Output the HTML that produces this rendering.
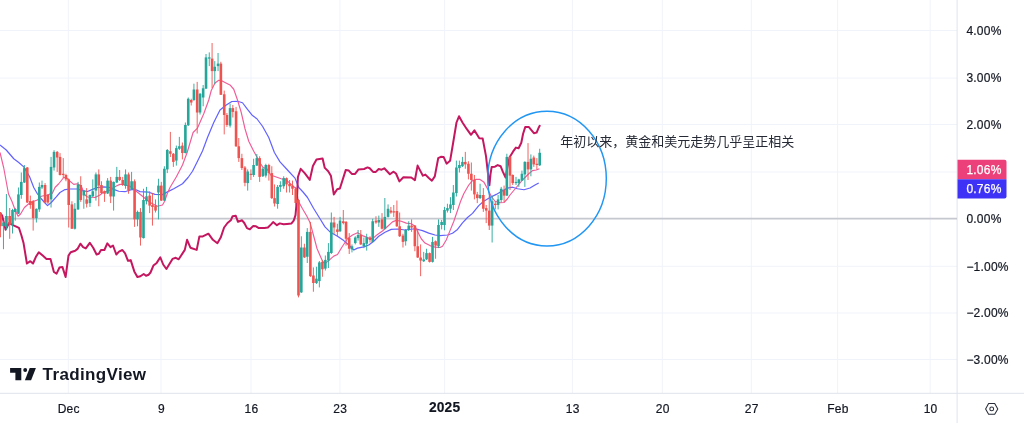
<!DOCTYPE html>
<html><head><meta charset="utf-8"><title>chart</title>
<style>
html,body{margin:0;padding:0;background:#fff;}
body{width:1024px;height:423px;overflow:hidden;position:relative;font-family:"Liberation Sans","Noto Sans CJK SC",sans-serif;}
svg{position:absolute;left:0;top:0;display:block;will-change:transform;}
text{font-family:"Liberation Sans","Noto Sans CJK SC",sans-serif;}
.ax{font-size:12px;fill:#131722;stroke:#131722;stroke-width:.2px;}
</style></head><body>
<svg width="1024" height="423" viewBox="0 0 1024 423">
<rect width="1024" height="423" fill="#ffffff"/>
<g stroke="#f0f3fa" stroke-width="1">
<line x1="68.3" y1="0" x2="68.3" y2="393"/>
<line x1="161.0" y1="0" x2="161.0" y2="393"/>
<line x1="251.0" y1="0" x2="251.0" y2="393"/>
<line x1="339.9" y1="0" x2="339.9" y2="393"/>
<line x1="444.6" y1="0" x2="444.6" y2="393"/>
<line x1="572.4" y1="0" x2="572.4" y2="393"/>
<line x1="662.3" y1="0" x2="662.3" y2="393"/>
<line x1="751.3" y1="0" x2="751.3" y2="393"/>
<line x1="837.6" y1="0" x2="837.6" y2="393"/>
<line x1="930.2" y1="0" x2="930.2" y2="393"/>
<line x1="0" y1="30.5" x2="957" y2="30.5"/>
<line x1="0" y1="78.1" x2="957" y2="78.1"/>
<line x1="0" y1="124.5" x2="957" y2="124.5"/>
<line x1="0" y1="172.0" x2="957" y2="172.0"/>
<line x1="0" y1="266.3" x2="957" y2="266.3"/>
<line x1="0" y1="313.0" x2="957" y2="313.0"/>
<line x1="0" y1="359.5" x2="957" y2="359.5"/>
</g>
<g stroke="#e0e3eb" stroke-width="1"><line x1="957.1" y1="0" x2="957.1" y2="423"/><line x1="0" y1="393.3" x2="1024" y2="393.3"/></g>
<line x1="0" y1="218.6" x2="957" y2="218.6" stroke="#c6c8cf" stroke-width="1.6"/>
<polyline points="0,145 6.25,150 13.75,158.75 18.75,162.5 23.75,166.9 29.4,176.25 33.75,187.5 37.5,194 41.25,198.75 45,203 47.5,205.6 51.25,202.5 56.25,196.9 60,192.5 65,189.6 70,189 77.5,189 82.5,190.6 87.5,191.5 92.5,189.4 97.5,187.5 103.75,186.9 108.75,187.25 113.75,189.4 118.75,191.25 125,191.7 128,190.7 132.5,189.4 136,189.8 140,191.6 148.75,192.2 155,194.4 162.5,194.6 167.5,191.9 173.75,188.75 182.5,183.75 188.1,177.5 192.5,171.25 197.5,161.25 202.5,151 207.5,137.5 213.75,122.5 220,110 226.25,105 231.9,101.5 237.5,101.25 242.5,102.75 247.5,109.4 252.5,115.6 256.9,118.75 262.5,126.25 268.75,137.5 274.4,152.5 280,161.9 287.5,170 295,178.1 298.75,187.5 303,192 307.5,197.5 313.5,208.3 320,218.75 325,226.9 330,231.9 337.5,236.25 343.75,240.6 348.75,245 353.75,250 357.5,248.1 363.75,246.9 368.75,245 373.75,241.25 378.75,236.25 385,232.2 391.25,229.4 397.5,229 405,230 415,228.75 422.5,230.6 428.75,233.1 435,235 440,235.6 447.5,235 452.5,233.2 457.5,229.4 462.5,222.8 467.5,217.5 472.5,213.4 478.75,205.6 483.75,201.25 490,197.5 496.25,194.4 501.25,191.5 507.5,188.1 512.5,187.2 517.5,188.75 524,189.75 530,188 535,185 538.75,183" fill="none" stroke="#6262ff" stroke-width="1.2" stroke-linejoin="round"/>
<polyline points="0,152.5 3.75,168 8.5,194 11.9,201.25 15.6,211.25 18.1,216.25 20.6,214 24.4,207.5 28.75,203.75 33.75,201.25 37.5,200 41.25,196.25 47.5,195 52.5,193.1 55,187.5 58.75,183.75 63.75,177.5 66.25,177.5 70,181.25 73.75,184.4 77.5,183.8 81.25,186.25 85,195 87.5,197 95,197.5 100,195 103.75,192 108.75,190.8 116.25,186 120,184.4 124,184.5 130,186.25 136.25,191.25 142.5,196.25 150,202.5 157.5,206.25 162.5,205 164.5,201.5 167.5,193 170,187.5 176.25,177 182.5,165 187.3,152 193.1,132.5 197.5,128.1 203.75,113.75 208.75,100 211.25,90.5 215,83 218.75,80.25 221.25,80.5 225,82.4 230,84.9 233.75,89.25 237.5,100 241.25,112.5 245,128.75 248.75,141.25 253.75,151.25 257.5,158 260.6,163.75 263.1,167.5 266.9,168.75 270.6,175 281.25,178.75 286.25,180 292.5,185.6 296.25,188.75 298.5,201.5 302.5,208.75 306.9,216.25 310,222.5 313.75,236.25 317,248.5 320,255.5 322.5,261.1 325,263.6 328.1,261.1 333.75,256.1 337.5,254.5 342,247 347.5,238.75 352.5,235 357.5,232.75 362.5,235.6 368.75,238.1 372.5,238.75 377.5,234.4 382.5,231 387.5,226.5 392.5,221.9 396.25,220.4 401.25,221.25 406.25,223.1 411.25,223.75 415,226.25 418.1,232.5 421.25,238.75 425,243.1 430,245.6 435,247.1 440,247.5 442.5,246.25 446.25,240 450,230.6 453.75,221.5 457.5,210.5 460.5,201.5 463.75,193.75 468.75,185 472.5,180.6 476.25,179.4 480,179.4 483.75,181.9 487.5,188.75 491.25,196.25 495,201.25 500,202.8 504,202.5 507.5,198.75 510,195 516.25,187.5 522.5,180 528.75,173.75 532.5,170.6 536.25,170 539.4,168.75" fill="none" stroke="#f05c97" stroke-width="1.15" stroke-linejoin="round"/>
<polyline points="0,213 2.2,215.7 5.6,229.8 9,223 13.5,225.3 16.8,226.8 18.9,227.8 21.3,235 23.6,243.3 26.9,263.5 30.3,261.2 33,263.5 35.9,256.8 38.8,252.3 42.7,255.6 46.5,259 50.5,259 53.9,272 56.6,273.6 59.5,267.5 62.4,266.9 65.6,277 68.5,255.6 70.7,252.3 75.2,250.7 77.5,248.9 80.4,243.7 83.1,247.1 85.8,248.4 89.8,242.8 93.2,247.8 96.6,254.5 98.8,253.8 101,250 104.4,250 107.3,243.3 110.5,247.1 113,245.5 116.3,254.5 119,251.6 122.4,250 125.1,253.4 128,260.8 130.7,260.1 134.3,271.4 137.4,277 140.4,276.3 143.7,274 146,275.8 148.7,274.7 150.5,272.5 153.4,265.6 156.7,262.9 160.3,257.3 163.2,264.5 166.4,269 172.5,258.9 175.8,257.8 178.7,259.3 184.8,249.9 187.1,239.8 190.4,247.7 196.7,249.9 199.4,236.4 202.8,236.4 208.4,233.7 212.9,239.8 217.4,243.2 220.7,237.6 224.1,227.5 227.5,223 230.8,220.3 232.6,216.2 235.8,215.8 238,221.8 242.1,220.3 244.3,223 247,228.1 249.9,229.3 253.3,225.9 256,226.3 258.9,228.1 264.5,227.9 267.9,227.5 271.3,224.1 273.1,222.1 276.9,225.2 279.8,223.4 283.6,224.3 287,223.9 291.5,223.4 293.7,220.7 295.5,215.1 296.4,205 297.1,196.1 297.9,177 300.7,168.8 304.7,173.2 309.8,179.9 312.9,166 316.5,159.6 322.6,158.4 324.8,167.9 328.2,171.2 330.9,175.7 333.8,194.4 337.2,189.2 339.9,188.5 345.7,170.1 348.8,170.6 351.8,173.9 355.1,173.9 358.5,169.4 364.1,169 367.5,167.4 369.7,168.3 373.1,171.9 375.8,171.9 378.7,169 381.6,169.7 384.3,168.3 389.9,174.2 393.3,171.7 396,173.5 399.4,181.4 403.4,177.3 411.3,177.5 414.9,180.2 417.6,165.6 420.2,170.6 422.9,175.7 425.4,174.6 428.8,178 431.9,180.7 434.8,176.4 438.2,158.2 440.9,156.8 443.6,156.9 446.6,163.7 450.1,160.8 453.2,142.5 456.5,122.5 459,116.3 462.5,122.5 466.9,129.2 471,134.8 474.4,130.3 479.3,138.2 482.7,138.6 486,156.1 488.3,176.4 489.4,185.3 490.5,174.1 491.7,166.9 495,166.7 497.7,165.1 500.6,166.2 502.9,171.9 505.6,177.5 507.4,167.4 509.6,157.3 513,151.7 515.9,147.6 518.6,148.3 521.3,142.7 523.1,133.7 525.3,126.9 528.7,126.9 531.6,130.3 533.9,133.2 536.6,132.6 538.8,127.4 539.7,125.8" fill="none" stroke="#c4175f" stroke-width="2.0" stroke-linejoin="round" stroke-linecap="round"/>
<g id="candles">
<path d="M0.49 212V237.3" stroke="#ef5350" stroke-width="1" stroke-opacity=".9"/><rect x="-0.81" y="212.7" width="2.6" height="13.5" fill="#ef5350"/>
<path d="M3.48 221V249.2" stroke="#26a69a" stroke-width="1" stroke-opacity=".9"/><rect x="2.18" y="222.5" width="2.6" height="3.7" fill="#26a69a"/>
<path d="M6.41 194V230" stroke="#26a69a" stroke-width="1" stroke-opacity=".9"/><rect x="5.11" y="216" width="2.6" height="11" fill="#26a69a"/>
<path d="M9.7 208V238.8" stroke="#ef5350" stroke-width="1" stroke-opacity=".9"/><rect x="8.4" y="216" width="2.6" height="8.5" fill="#ef5350"/>
<path d="M12.51 208.8V233.5" stroke="#26a69a" stroke-width="1" stroke-opacity=".9"/><rect x="11.21" y="210" width="2.6" height="14.5" fill="#26a69a"/>
<path d="M15.27 208V220.7" stroke="#26a69a" stroke-width="1" stroke-opacity=".9"/><rect x="13.97" y="209" width="2.6" height="3" fill="#26a69a"/>
<path d="M18.44 187.5V214" stroke="#26a69a" stroke-width="1" stroke-opacity=".9"/><rect x="17.14" y="194.4" width="2.6" height="19.35" fill="#26a69a"/>
<path d="M21.31 172.5V198.75" stroke="#26a69a" stroke-width="1" stroke-opacity=".9"/><rect x="20.01" y="181.9" width="2.6" height="13.1" fill="#26a69a"/>
<path d="M24.36 165V183" stroke="#26a69a" stroke-width="1" stroke-opacity=".9"/><rect x="23.06" y="168.1" width="2.6" height="14.4" fill="#26a69a"/>
<path d="M27.29 167V203" stroke="#ef5350" stroke-width="1" stroke-opacity=".9"/><rect x="25.99" y="167.5" width="2.6" height="35" fill="#ef5350"/>
<path d="M30.35 195.6V208.75" stroke="#ef5350" stroke-width="1" stroke-opacity=".9"/><rect x="29.05" y="201" width="2.6" height="4" fill="#ef5350"/>
<path d="M33.16 200V230.6" stroke="#ef5350" stroke-width="1" stroke-opacity=".9"/><rect x="31.86" y="201.25" width="2.6" height="16.85" fill="#ef5350"/>
<path d="M36.39 208.5V222.5" stroke="#26a69a" stroke-width="1" stroke-opacity=".9"/><rect x="35.09" y="208.75" width="2.6" height="9.35" fill="#26a69a"/>
<path d="M39.32 182.5V211.9" stroke="#26a69a" stroke-width="1" stroke-opacity=".9"/><rect x="38.02" y="186.9" width="2.6" height="22.5" fill="#26a69a"/>
<path d="M42.01 180.6V189" stroke="#26a69a" stroke-width="1" stroke-opacity=".9"/><rect x="40.71" y="185" width="2.6" height="2.5" fill="#26a69a"/>
<path d="M45.07 183.1V203" stroke="#ef5350" stroke-width="1" stroke-opacity=".9"/><rect x="43.77" y="185" width="2.6" height="17.5" fill="#ef5350"/>
<path d="M47.91 194V204" stroke="#ef5350" stroke-width="1" stroke-opacity=".9"/><rect x="46.61" y="195" width="2.6" height="7.5" fill="#ef5350"/>
<path d="M51.05 156.9V207.5" stroke="#26a69a" stroke-width="1" stroke-opacity=".9"/><rect x="49.75" y="166.9" width="2.6" height="32.5" fill="#26a69a"/>
<path d="M54.04 150.25V170.6" stroke="#26a69a" stroke-width="1" stroke-opacity=".9"/><rect x="52.74" y="151.9" width="2.6" height="15.6" fill="#26a69a"/>
<path d="M57.18 151V171.9" stroke="#ef5350" stroke-width="1" stroke-opacity=".9"/><rect x="55.88" y="151.9" width="2.6" height="5.6" fill="#ef5350"/>
<path d="M60.03 153.1V175.5" stroke="#ef5350" stroke-width="1" stroke-opacity=".9"/><rect x="58.73" y="156.9" width="2.6" height="18.1" fill="#ef5350"/>
<path d="M63.26 158.1V178.1" stroke="#ef5350" stroke-width="1" stroke-opacity=".9"/><rect x="61.96" y="173.75" width="2.6" height="1.25" fill="#ef5350"/>
<path d="M65.95 173.75V181.25" stroke="#ef5350" stroke-width="1" stroke-opacity=".9"/><rect x="64.65" y="175" width="2.6" height="4.4" fill="#ef5350"/>
<path d="M68.7 178.5V227.5" stroke="#ef5350" stroke-width="1" stroke-opacity=".9"/><rect x="67.4" y="179.4" width="2.6" height="25.6" fill="#ef5350"/>
<path d="M71.93 201.25V229" stroke="#ef5350" stroke-width="1" stroke-opacity=".9"/><rect x="70.63" y="204.4" width="2.6" height="24.35" fill="#ef5350"/>
<path d="M74.84 203.1V229.5" stroke="#26a69a" stroke-width="1" stroke-opacity=".9"/><rect x="73.54" y="208.75" width="2.6" height="20" fill="#26a69a"/>
<path d="M78.04 181.9V210" stroke="#26a69a" stroke-width="1" stroke-opacity=".9"/><rect x="76.74" y="184.4" width="2.6" height="25" fill="#26a69a"/>
<path d="M80.73 176.25V201.9" stroke="#ef5350" stroke-width="1" stroke-opacity=".9"/><rect x="79.43" y="185" width="2.6" height="15" fill="#ef5350"/>
<path d="M83.81 190V208.75" stroke="#26a69a" stroke-width="1" stroke-opacity=".9"/><rect x="82.51" y="190.6" width="2.6" height="4.9" fill="#26a69a"/>
<path d="M86.65 188.1V207.5" stroke="#ef5350" stroke-width="1" stroke-opacity=".9"/><rect x="85.35" y="199.4" width="2.6" height="4.35" fill="#ef5350"/>
<path d="M89.95 194.5V206.9" stroke="#26a69a" stroke-width="1" stroke-opacity=".9"/><rect x="88.65" y="195" width="2.6" height="8.1" fill="#26a69a"/>
<path d="M92.79 179.4V197" stroke="#26a69a" stroke-width="1" stroke-opacity=".9"/><rect x="91.49" y="191.25" width="2.6" height="5" fill="#26a69a"/>
<path d="M95.93 172.5V200.6" stroke="#26a69a" stroke-width="1" stroke-opacity=".9"/><rect x="94.63" y="174.4" width="2.6" height="16.2" fill="#26a69a"/>
<path d="M98.77 169.4V206.25" stroke="#ef5350" stroke-width="1" stroke-opacity=".9"/><rect x="97.47" y="174.4" width="2.6" height="11.2" fill="#ef5350"/>
<path d="M101.46 181.25V194" stroke="#ef5350" stroke-width="1" stroke-opacity=".9"/><rect x="100.16" y="185" width="2.6" height="8" fill="#ef5350"/>
<path d="M104.55 190.5V201.9" stroke="#ef5350" stroke-width="1" stroke-opacity=".9"/><rect x="103.25" y="191.25" width="2.6" height="2.5" fill="#ef5350"/>
<path d="M107.6 178.1V194" stroke="#26a69a" stroke-width="1" stroke-opacity=".9"/><rect x="106.3" y="180.6" width="2.6" height="12.9" fill="#26a69a"/>
<path d="M110.65 176.9V203.1" stroke="#ef5350" stroke-width="1" stroke-opacity=".9"/><rect x="109.35" y="180.6" width="2.6" height="15.9" fill="#ef5350"/>
<path d="M113.58 181.5V210.6" stroke="#26a69a" stroke-width="1" stroke-opacity=".9"/><rect x="112.28" y="181.9" width="2.6" height="14.6" fill="#26a69a"/>
<path d="M116.81 166.9V183" stroke="#26a69a" stroke-width="1" stroke-opacity=".9"/><rect x="115.51" y="176.9" width="2.6" height="5.6" fill="#26a69a"/>
<path d="M119.63 170V181" stroke="#ef5350" stroke-width="1" stroke-opacity=".9"/><rect x="118.33" y="176.9" width="2.6" height="3.1" fill="#ef5350"/>
<path d="M122.71 176.9V186" stroke="#ef5350" stroke-width="1" stroke-opacity=".9"/><rect x="121.41" y="180" width="2.6" height="5" fill="#ef5350"/>
<path d="M125.55 169.4V188.75" stroke="#26a69a" stroke-width="1" stroke-opacity=".9"/><rect x="124.25" y="174.4" width="2.6" height="11.6" fill="#26a69a"/>
<path d="M128.54 172.5V193.75" stroke="#ef5350" stroke-width="1" stroke-opacity=".9"/><rect x="127.24" y="174.4" width="2.6" height="15.6" fill="#ef5350"/>
<path d="M131.59 171.9V190" stroke="#26a69a" stroke-width="1" stroke-opacity=".9"/><rect x="130.29" y="181.25" width="2.6" height="8.15" fill="#26a69a"/>
<path d="M134.59 179.4V226.9" stroke="#ef5350" stroke-width="1" stroke-opacity=".9"/><rect x="133.29" y="181.25" width="2.6" height="38.15" fill="#ef5350"/>
<path d="M137.52 210.6V226.25" stroke="#26a69a" stroke-width="1" stroke-opacity=".9"/><rect x="136.22" y="211.9" width="2.6" height="7.5" fill="#26a69a"/>
<path d="M140.51 208.1V245.6" stroke="#ef5350" stroke-width="1" stroke-opacity=".9"/><rect x="139.21" y="211.9" width="2.6" height="25.6" fill="#ef5350"/>
<path d="M143.5 188.75V238.5" stroke="#26a69a" stroke-width="1" stroke-opacity=".9"/><rect x="142.2" y="200" width="2.6" height="38.1" fill="#26a69a"/>
<path d="M146.49 186.9V204.4" stroke="#26a69a" stroke-width="1" stroke-opacity=".9"/><rect x="145.19" y="196.25" width="2.6" height="5" fill="#26a69a"/>
<path d="M149.64 191.25V213.1" stroke="#ef5350" stroke-width="1" stroke-opacity=".9"/><rect x="148.34" y="195.6" width="2.6" height="10" fill="#ef5350"/>
<path d="M152.48 193.1V225.6" stroke="#ef5350" stroke-width="1" stroke-opacity=".9"/><rect x="151.18" y="205" width="2.6" height="2" fill="#ef5350"/>
<path d="M155.53 199.4V212.5" stroke="#ef5350" stroke-width="1" stroke-opacity=".9"/><rect x="154.23" y="205.6" width="2.6" height="5" fill="#ef5350"/>
<path d="M158.46 178.75V219.4" stroke="#26a69a" stroke-width="1" stroke-opacity=".9"/><rect x="157.16" y="185.6" width="2.6" height="6.9" fill="#26a69a"/>
<path d="M161.3 181.9V201" stroke="#ef5350" stroke-width="1" stroke-opacity=".9"/><rect x="160" y="185.6" width="2.6" height="15" fill="#ef5350"/>
<path d="M164.39 166.25V201" stroke="#26a69a" stroke-width="1" stroke-opacity=".9"/><rect x="163.09" y="168.75" width="2.6" height="31.85" fill="#26a69a"/>
<path d="M167.29 149V173.1" stroke="#26a69a" stroke-width="1" stroke-opacity=".9"/><rect x="165.99" y="150" width="2.6" height="19.4" fill="#26a69a"/>
<path d="M170.37 131.9V157" stroke="#ef5350" stroke-width="1" stroke-opacity=".9"/><rect x="169.07" y="151.25" width="2.6" height="2.5" fill="#ef5350"/>
<path d="M173.36 153V166.9" stroke="#ef5350" stroke-width="1" stroke-opacity=".9"/><rect x="172.06" y="153.75" width="2.6" height="8.15" fill="#ef5350"/>
<path d="M176.35 145.6V165.6" stroke="#26a69a" stroke-width="1" stroke-opacity=".9"/><rect x="175.05" y="148.1" width="2.6" height="12.5" fill="#26a69a"/>
<path d="M179.35 136.9V150" stroke="#26a69a" stroke-width="1" stroke-opacity=".9"/><rect x="178.05" y="146.25" width="2.6" height="2.5" fill="#26a69a"/>
<path d="M182.4 142.5V159.4" stroke="#ef5350" stroke-width="1" stroke-opacity=".9"/><rect x="181.1" y="145.6" width="2.6" height="7.4" fill="#ef5350"/>
<path d="M185.39 122.5V153.5" stroke="#26a69a" stroke-width="1" stroke-opacity=".9"/><rect x="184.09" y="125" width="2.6" height="28" fill="#26a69a"/>
<path d="M188.26 97.5V126" stroke="#26a69a" stroke-width="1" stroke-opacity=".9"/><rect x="186.96" y="98.75" width="2.6" height="26.55" fill="#26a69a"/>
<path d="M191.22 98.75V105.5" stroke="#ef5350" stroke-width="1" stroke-opacity=".9"/><rect x="189.92" y="100" width="2.6" height="2.5" fill="#ef5350"/>
<path d="M193.92 83.7V101" stroke="#26a69a" stroke-width="1" stroke-opacity=".9"/><rect x="192.62" y="89.5" width="2.6" height="10.5" fill="#26a69a"/>
<path d="M197.18 81.9V133.5" stroke="#ef5350" stroke-width="1" stroke-opacity=".9"/><rect x="195.88" y="89.5" width="2.6" height="23" fill="#ef5350"/>
<path d="M200.05 93V114.5" stroke="#26a69a" stroke-width="1" stroke-opacity=".9"/><rect x="198.75" y="93.75" width="2.6" height="18.75" fill="#26a69a"/>
<path d="M203.16 85V106.25" stroke="#26a69a" stroke-width="1" stroke-opacity=".9"/><rect x="201.86" y="88.3" width="2.6" height="9.2" fill="#26a69a"/>
<path d="M206.03 54V89" stroke="#26a69a" stroke-width="1" stroke-opacity=".9"/><rect x="204.73" y="57.4" width="2.6" height="31.2" fill="#26a69a"/>
<path d="M209.27 52.4V66.1" stroke="#26a69a" stroke-width="1" stroke-opacity=".9"/><rect x="207.97" y="57.4" width="2.6" height="1.2" fill="#26a69a"/>
<path d="M212.08 43V88" stroke="#ef5350" stroke-width="1" stroke-opacity=".9"/><rect x="210.78" y="58.6" width="2.6" height="12.5" fill="#ef5350"/>
<path d="M214.77 61.1V84.25" stroke="#26a69a" stroke-width="1" stroke-opacity=".9"/><rect x="213.47" y="66.75" width="2.6" height="4.35" fill="#26a69a"/>
<path d="M218.06 53V71.1" stroke="#26a69a" stroke-width="1" stroke-opacity=".9"/><rect x="216.76" y="63.6" width="2.6" height="2.5" fill="#26a69a"/>
<path d="M220.87 61.75V95" stroke="#ef5350" stroke-width="1" stroke-opacity=".9"/><rect x="219.57" y="63.6" width="2.6" height="31.2" fill="#ef5350"/>
<path d="M224.23 90.6V134.4" stroke="#ef5350" stroke-width="1" stroke-opacity=".9"/><rect x="222.93" y="94.3" width="2.6" height="20.7" fill="#ef5350"/>
<path d="M226.92 113V126.9" stroke="#ef5350" stroke-width="1" stroke-opacity=".9"/><rect x="225.62" y="115" width="2.6" height="10" fill="#ef5350"/>
<path d="M230.09 103.75V127.5" stroke="#26a69a" stroke-width="1" stroke-opacity=".9"/><rect x="228.79" y="108.1" width="2.6" height="17.5" fill="#26a69a"/>
<path d="M232.84 105V117.5" stroke="#ef5350" stroke-width="1" stroke-opacity=".9"/><rect x="231.54" y="108.1" width="2.6" height="3.8" fill="#ef5350"/>
<path d="M236.07 106.9V147" stroke="#ef5350" stroke-width="1" stroke-opacity=".9"/><rect x="234.77" y="111.25" width="2.6" height="35" fill="#ef5350"/>
<path d="M238.77 138V161.9" stroke="#ef5350" stroke-width="1" stroke-opacity=".9"/><rect x="237.47" y="146.25" width="2.6" height="11.85" fill="#ef5350"/>
<path d="M241.88 153.75V170" stroke="#ef5350" stroke-width="1" stroke-opacity=".9"/><rect x="240.58" y="158.1" width="2.6" height="9.9" fill="#ef5350"/>
<path d="M244.93 166V186.25" stroke="#ef5350" stroke-width="1" stroke-opacity=".9"/><rect x="243.63" y="167.5" width="2.6" height="15.3" fill="#ef5350"/>
<path d="M247.68 169.4V190.6" stroke="#26a69a" stroke-width="1" stroke-opacity=".9"/><rect x="246.38" y="171.5" width="2.6" height="11.6" fill="#26a69a"/>
<path d="M250.91 169.4V180" stroke="#ef5350" stroke-width="1" stroke-opacity=".9"/><rect x="249.61" y="173.75" width="2.6" height="1.25" fill="#ef5350"/>
<path d="M253.61 158.75V176.9" stroke="#26a69a" stroke-width="1" stroke-opacity=".9"/><rect x="252.31" y="165" width="2.6" height="10" fill="#26a69a"/>
<path d="M256.84 154V166" stroke="#26a69a" stroke-width="1" stroke-opacity=".9"/><rect x="255.54" y="158.1" width="2.6" height="7.5" fill="#26a69a"/>
<path d="M259.65 156.25V181.9" stroke="#ef5350" stroke-width="1" stroke-opacity=".9"/><rect x="258.35" y="158.1" width="2.6" height="18.8" fill="#ef5350"/>
<path d="M262.82 167.5V177" stroke="#26a69a" stroke-width="1" stroke-opacity=".9"/><rect x="261.52" y="168.75" width="2.6" height="7.5" fill="#26a69a"/>
<path d="M265.81 163.75V177.5" stroke="#26a69a" stroke-width="1" stroke-opacity=".9"/><rect x="264.51" y="165" width="2.6" height="10.6" fill="#26a69a"/>
<path d="M268.87 163.75V180.6" stroke="#ef5350" stroke-width="1" stroke-opacity=".9"/><rect x="267.57" y="165" width="2.6" height="8.1" fill="#ef5350"/>
<path d="M271.8 166.25V199" stroke="#ef5350" stroke-width="1" stroke-opacity=".9"/><rect x="270.5" y="173.1" width="2.6" height="25" fill="#ef5350"/>
<path d="M274.55 184.4V206.5" stroke="#ef5350" stroke-width="1" stroke-opacity=".9"/><rect x="273.25" y="198.1" width="2.6" height="5.4" fill="#ef5350"/>
<path d="M277.6 185V208.7" stroke="#26a69a" stroke-width="1" stroke-opacity=".9"/><rect x="276.3" y="186.9" width="2.6" height="17.1" fill="#26a69a"/>
<path d="M280.38 181.25V191.9" stroke="#26a69a" stroke-width="1" stroke-opacity=".9"/><rect x="279.08" y="185" width="2.6" height="1.9" fill="#26a69a"/>
<path d="M283.68 176.25V188.75" stroke="#26a69a" stroke-width="1" stroke-opacity=".9"/><rect x="282.38" y="178.1" width="2.6" height="8.15" fill="#26a69a"/>
<path d="M286.52 177.5V192.5" stroke="#ef5350" stroke-width="1" stroke-opacity=".9"/><rect x="285.22" y="178.1" width="2.6" height="6.3" fill="#ef5350"/>
<path d="M289.57 180V192.5" stroke="#ef5350" stroke-width="1" stroke-opacity=".9"/><rect x="288.27" y="183.75" width="2.6" height="2.5" fill="#ef5350"/>
<path d="M292.5 180.6V195" stroke="#ef5350" stroke-width="1" stroke-opacity=".9"/><rect x="291.2" y="185.6" width="2.6" height="3.15" fill="#ef5350"/>
<path d="M295.73 187V205.6" stroke="#ef5350" stroke-width="1" stroke-opacity=".9"/><rect x="294.43" y="188.75" width="2.6" height="14.25" fill="#ef5350"/>
<path d="M298.49 199V297.4" stroke="#ef5350" stroke-width="1" stroke-opacity=".9"/><rect x="297.19" y="200" width="2.6" height="95.5" fill="#ef5350"/>
<path d="M301.33 236.25V293" stroke="#26a69a" stroke-width="1" stroke-opacity=".9"/><rect x="300.03" y="247.5" width="2.6" height="44.9" fill="#26a69a"/>
<path d="M304.41 243.75V258" stroke="#ef5350" stroke-width="1" stroke-opacity=".9"/><rect x="303.11" y="247.5" width="2.6" height="9.9" fill="#ef5350"/>
<path d="M307.28 228.1V263" stroke="#26a69a" stroke-width="1" stroke-opacity=".9"/><rect x="305.98" y="231.9" width="2.6" height="24.85" fill="#26a69a"/>
<path d="M310.39 221.9V277" stroke="#ef5350" stroke-width="1" stroke-opacity=".9"/><rect x="309.09" y="231.9" width="2.6" height="44.2" fill="#ef5350"/>
<path d="M313.39 267.4V291.75" stroke="#ef5350" stroke-width="1" stroke-opacity=".9"/><rect x="312.09" y="275.5" width="2.6" height="7.5" fill="#ef5350"/>
<path d="M316.44 266.75V284" stroke="#26a69a" stroke-width="1" stroke-opacity=".9"/><rect x="315.14" y="278.6" width="2.6" height="4.4" fill="#26a69a"/>
<path d="M319.37 261V287.4" stroke="#26a69a" stroke-width="1" stroke-opacity=".9"/><rect x="318.07" y="262.4" width="2.6" height="18.7" fill="#26a69a"/>
<path d="M322.42 260V276.75" stroke="#ef5350" stroke-width="1" stroke-opacity=".9"/><rect x="321.12" y="261.75" width="2.6" height="7.5" fill="#ef5350"/>
<path d="M325.35 255.5V270.5" stroke="#26a69a" stroke-width="1" stroke-opacity=".9"/><rect x="324.05" y="259.9" width="2.6" height="8.7" fill="#26a69a"/>
<path d="M328.41 243.1V268" stroke="#26a69a" stroke-width="1" stroke-opacity=".9"/><rect x="327.11" y="251.9" width="2.6" height="8.6" fill="#26a69a"/>
<path d="M331.34 212.5V254" stroke="#26a69a" stroke-width="1" stroke-opacity=".9"/><rect x="330.04" y="222.5" width="2.6" height="30.5" fill="#26a69a"/>
<path d="M334.09 216.9V233.75" stroke="#ef5350" stroke-width="1" stroke-opacity=".9"/><rect x="332.79" y="222.5" width="2.6" height="5" fill="#ef5350"/>
<path d="M337.38 223.75V236.25" stroke="#ef5350" stroke-width="1" stroke-opacity=".9"/><rect x="336.08" y="229.4" width="2.6" height="2.5" fill="#ef5350"/>
<path d="M340.07 216.9V232" stroke="#26a69a" stroke-width="1" stroke-opacity=".9"/><rect x="338.77" y="220.6" width="2.6" height="10.65" fill="#26a69a"/>
<path d="M343.31 210V224.4" stroke="#ef5350" stroke-width="1" stroke-opacity=".9"/><rect x="342.01" y="221.25" width="2.6" height="1.85" fill="#ef5350"/>
<path d="M346.06 221V245.6" stroke="#ef5350" stroke-width="1" stroke-opacity=".9"/><rect x="344.76" y="221.9" width="2.6" height="16.85" fill="#ef5350"/>
<path d="M349.23 233.1V254" stroke="#ef5350" stroke-width="1" stroke-opacity=".9"/><rect x="347.93" y="238.1" width="2.6" height="10.65" fill="#ef5350"/>
<path d="M351.98 244.4V252.4" stroke="#26a69a" stroke-width="1" stroke-opacity=".9"/><rect x="350.68" y="246.25" width="2.6" height="3.15" fill="#26a69a"/>
<path d="M355.27 236.25V244.4" stroke="#26a69a" stroke-width="1" stroke-opacity=".9"/><rect x="353.97" y="237.5" width="2.6" height="5.6" fill="#26a69a"/>
<path d="M358.09 230V240.6" stroke="#26a69a" stroke-width="1" stroke-opacity=".9"/><rect x="356.79" y="235" width="2.6" height="3.1" fill="#26a69a"/>
<path d="M360.78 230V245" stroke="#ef5350" stroke-width="1" stroke-opacity=".9"/><rect x="359.48" y="235" width="2.6" height="9.4" fill="#ef5350"/>
<path d="M363.86 237.5V248.1" stroke="#26a69a" stroke-width="1" stroke-opacity=".9"/><rect x="362.56" y="243.1" width="2.6" height="3.15" fill="#26a69a"/>
<path d="M366.7 233.75V250.6" stroke="#26a69a" stroke-width="1" stroke-opacity=".9"/><rect x="365.4" y="237.5" width="2.6" height="6.25" fill="#26a69a"/>
<path d="M369.99 236.25V242.5" stroke="#ef5350" stroke-width="1" stroke-opacity=".9"/><rect x="368.69" y="237.5" width="2.6" height="2.5" fill="#ef5350"/>
<path d="M372.69 218.75V242.5" stroke="#26a69a" stroke-width="1" stroke-opacity=".9"/><rect x="371.39" y="221.25" width="2.6" height="20.65" fill="#26a69a"/>
<path d="M375.98 216.25V223.75" stroke="#ef5350" stroke-width="1" stroke-opacity=".9"/><rect x="374.68" y="220.6" width="2.6" height="1.9" fill="#ef5350"/>
<path d="M378.82 215.6V226.9" stroke="#26a69a" stroke-width="1" stroke-opacity=".9"/><rect x="377.52" y="220" width="2.6" height="2.5" fill="#26a69a"/>
<path d="M382.02 213.1V229.5" stroke="#ef5350" stroke-width="1" stroke-opacity=".9"/><rect x="380.72" y="219.4" width="2.6" height="9.35" fill="#ef5350"/>
<path d="M384.83 198V229.5" stroke="#26a69a" stroke-width="1" stroke-opacity=".9"/><rect x="383.53" y="216.9" width="2.6" height="11.85" fill="#26a69a"/>
<path d="M388.07 204.4V217.5" stroke="#26a69a" stroke-width="1" stroke-opacity=".9"/><rect x="386.77" y="208.75" width="2.6" height="8.15" fill="#26a69a"/>
<path d="M390.88 206.9V213.75" stroke="#ef5350" stroke-width="1" stroke-opacity=".9"/><rect x="389.58" y="210.6" width="2.6" height="1.9" fill="#ef5350"/>
<path d="M393.78 205V216.9" stroke="#ef5350" stroke-width="1" stroke-opacity=".9"/><rect x="392.48" y="211.25" width="2.6" height="1.25" fill="#ef5350"/>
<path d="M396.92 200.5V227" stroke="#ef5350" stroke-width="1" stroke-opacity=".9"/><rect x="395.62" y="211" width="2.6" height="15.25" fill="#ef5350"/>
<path d="M399.67 212.5V237" stroke="#ef5350" stroke-width="1" stroke-opacity=".9"/><rect x="398.37" y="226.25" width="2.6" height="10" fill="#ef5350"/>
<path d="M402.97 233.75V247.5" stroke="#ef5350" stroke-width="1" stroke-opacity=".9"/><rect x="401.67" y="235.6" width="2.6" height="6.3" fill="#ef5350"/>
<path d="M405.66 229V245.6" stroke="#26a69a" stroke-width="1" stroke-opacity=".9"/><rect x="404.36" y="230" width="2.6" height="11.25" fill="#26a69a"/>
<path d="M408.74 221.25V231" stroke="#26a69a" stroke-width="1" stroke-opacity=".9"/><rect x="407.44" y="225.6" width="2.6" height="4.4" fill="#26a69a"/>
<path d="M411.58 219.4V231.9" stroke="#ef5350" stroke-width="1" stroke-opacity=".9"/><rect x="410.28" y="225.6" width="2.6" height="1.9" fill="#ef5350"/>
<path d="M414.87 225V251.25" stroke="#ef5350" stroke-width="1" stroke-opacity=".9"/><rect x="413.57" y="225.6" width="2.6" height="20.65" fill="#ef5350"/>
<path d="M417.72 228.75V258" stroke="#ef5350" stroke-width="1" stroke-opacity=".9"/><rect x="416.42" y="246.25" width="2.6" height="11.25" fill="#ef5350"/>
<path d="M420.62 244.4V276.2" stroke="#ef5350" stroke-width="1" stroke-opacity=".9"/><rect x="419.32" y="257.5" width="2.6" height="3.1" fill="#ef5350"/>
<path d="M423.7 251.9V262" stroke="#26a69a" stroke-width="1" stroke-opacity=".9"/><rect x="422.4" y="259.4" width="2.6" height="1.85" fill="#26a69a"/>
<path d="M426.54 248.75V260" stroke="#26a69a" stroke-width="1" stroke-opacity=".9"/><rect x="425.24" y="253.1" width="2.6" height="6.3" fill="#26a69a"/>
<path d="M429.59 252.5V262.5" stroke="#ef5350" stroke-width="1" stroke-opacity=".9"/><rect x="428.29" y="253.1" width="2.6" height="8.8" fill="#ef5350"/>
<path d="M432.53 236.9V262.5" stroke="#26a69a" stroke-width="1" stroke-opacity=".9"/><rect x="431.23" y="241.9" width="2.6" height="20" fill="#26a69a"/>
<path d="M435.58 240.5V258.75" stroke="#ef5350" stroke-width="1" stroke-opacity=".9"/><rect x="434.28" y="241.25" width="2.6" height="4.35" fill="#ef5350"/>
<path d="M438.51 219.4V248.1" stroke="#26a69a" stroke-width="1" stroke-opacity=".9"/><rect x="437.21" y="225" width="2.6" height="21.25" fill="#26a69a"/>
<path d="M441.62 220V229.4" stroke="#26a69a" stroke-width="1" stroke-opacity=".9"/><rect x="440.32" y="222" width="2.6" height="3" fill="#26a69a"/>
<path d="M444.49 206.9V230.3" stroke="#26a69a" stroke-width="1" stroke-opacity=".9"/><rect x="443.19" y="210" width="2.6" height="15" fill="#26a69a"/>
<path d="M447.43 203.75V212.5" stroke="#26a69a" stroke-width="1" stroke-opacity=".9"/><rect x="446.13" y="208.1" width="2.6" height="2.5" fill="#26a69a"/>
<path d="M450.48 197.2V213.1" stroke="#26a69a" stroke-width="1" stroke-opacity=".9"/><rect x="449.18" y="204.4" width="2.6" height="4.35" fill="#26a69a"/>
<path d="M453.35 185V210" stroke="#26a69a" stroke-width="1" stroke-opacity=".9"/><rect x="452.05" y="192.5" width="2.6" height="12.5" fill="#26a69a"/>
<path d="M456.4 160.6V196.5" stroke="#26a69a" stroke-width="1" stroke-opacity=".9"/><rect x="455.1" y="167.5" width="2.6" height="25.6" fill="#26a69a"/>
<path d="M459.39 160.6V172.5" stroke="#26a69a" stroke-width="1" stroke-opacity=".9"/><rect x="458.09" y="165" width="2.6" height="3.1" fill="#26a69a"/>
<path d="M462.45 156.9V167" stroke="#26a69a" stroke-width="1" stroke-opacity=".9"/><rect x="461.15" y="161.9" width="2.6" height="4.35" fill="#26a69a"/>
<path d="M465.32 151.9V168.75" stroke="#ef5350" stroke-width="1" stroke-opacity=".9"/><rect x="464.02" y="161.9" width="2.6" height="2.5" fill="#ef5350"/>
<path d="M468.43 161.25V179.4" stroke="#ef5350" stroke-width="1" stroke-opacity=".9"/><rect x="467.13" y="163.75" width="2.6" height="10" fill="#ef5350"/>
<path d="M471.36 162.5V190.6" stroke="#ef5350" stroke-width="1" stroke-opacity=".9"/><rect x="470.06" y="173.75" width="2.6" height="6.25" fill="#ef5350"/>
<path d="M474.41 175V199.4" stroke="#ef5350" stroke-width="1" stroke-opacity=".9"/><rect x="473.11" y="180" width="2.6" height="14.4" fill="#ef5350"/>
<path d="M477.26 191.9V203.1" stroke="#ef5350" stroke-width="1" stroke-opacity=".9"/><rect x="475.96" y="194.4" width="2.6" height="3.7" fill="#ef5350"/>
<path d="M480.1 183.75V199" stroke="#26a69a" stroke-width="1" stroke-opacity=".9"/><rect x="478.8" y="195" width="2.6" height="3.1" fill="#26a69a"/>
<path d="M483.33 188.1V211.9" stroke="#ef5350" stroke-width="1" stroke-opacity=".9"/><rect x="482.03" y="195" width="2.6" height="13.75" fill="#ef5350"/>
<path d="M486.2 205V223.1" stroke="#ef5350" stroke-width="1" stroke-opacity=".9"/><rect x="484.9" y="208.1" width="2.6" height="2.5" fill="#ef5350"/>
<path d="M489.25 196V230" stroke="#ef5350" stroke-width="1" stroke-opacity=".9"/><rect x="487.95" y="210.6" width="2.6" height="15" fill="#ef5350"/>
<path d="M492.13 195.6V242.5" stroke="#26a69a" stroke-width="1" stroke-opacity=".9"/><rect x="490.83" y="201.25" width="2.6" height="24.35" fill="#26a69a"/>
<path d="M495.3 201.9V209.4" stroke="#ef5350" stroke-width="1" stroke-opacity=".9"/><rect x="494" y="203.75" width="2.6" height="1.25" fill="#ef5350"/>
<path d="M498.11 195V209.4" stroke="#26a69a" stroke-width="1" stroke-opacity=".9"/><rect x="496.81" y="199.4" width="2.6" height="5.6" fill="#26a69a"/>
<path d="M501.19 186.9V202.5" stroke="#26a69a" stroke-width="1" stroke-opacity=".9"/><rect x="499.89" y="188.75" width="2.6" height="11.25" fill="#26a69a"/>
<path d="M504.09 185.6V201.9" stroke="#ef5350" stroke-width="1" stroke-opacity=".9"/><rect x="502.79" y="190" width="2.6" height="5.6" fill="#ef5350"/>
<path d="M506.85 153.75V196" stroke="#26a69a" stroke-width="1" stroke-opacity=".9"/><rect x="505.55" y="156.9" width="2.6" height="38.7" fill="#26a69a"/>
<path d="M510.02 156V190" stroke="#ef5350" stroke-width="1" stroke-opacity=".9"/><rect x="508.72" y="156.9" width="2.6" height="18.7" fill="#ef5350"/>
<path d="M512.71 174.4V185" stroke="#ef5350" stroke-width="1" stroke-opacity=".9"/><rect x="511.41" y="175" width="2.6" height="8.1" fill="#ef5350"/>
<path d="M516 176.9V185" stroke="#26a69a" stroke-width="1" stroke-opacity=".9"/><rect x="514.7" y="181.9" width="2.6" height="1.2" fill="#26a69a"/>
<path d="M518.84 178.75V186.9" stroke="#26a69a" stroke-width="1" stroke-opacity=".9"/><rect x="517.54" y="179.4" width="2.6" height="3.7" fill="#26a69a"/>
<path d="M521.93 170.6V181" stroke="#26a69a" stroke-width="1" stroke-opacity=".9"/><rect x="520.63" y="173.75" width="2.6" height="6.85" fill="#26a69a"/>
<path d="M524.86 161.25V186.9" stroke="#26a69a" stroke-width="1" stroke-opacity=".9"/><rect x="523.56" y="161.9" width="2.6" height="12.5" fill="#26a69a"/>
<path d="M528.03 143.1V180" stroke="#ef5350" stroke-width="1" stroke-opacity=".9"/><rect x="526.73" y="161.9" width="2.6" height="7.5" fill="#ef5350"/>
<path d="M530.9 154.4V176.25" stroke="#26a69a" stroke-width="1" stroke-opacity=".9"/><rect x="529.6" y="158.75" width="2.6" height="10.65" fill="#26a69a"/>
<path d="M533.8 155.6V166.9" stroke="#ef5350" stroke-width="1" stroke-opacity=".9"/><rect x="532.5" y="157.5" width="2.6" height="6.9" fill="#ef5350"/>
<path d="M536.89 158.1V169.4" stroke="#ef5350" stroke-width="1" stroke-opacity=".9"/><rect x="535.59" y="163.75" width="2.6" height="1.25" fill="#ef5350"/>
<path d="M539.7 148.75V166" stroke="#26a69a" stroke-width="1" stroke-opacity=".9"/><rect x="538.4" y="152.8" width="2.6" height="12.5" fill="#26a69a"/>
</g>
<ellipse cx="547" cy="178.6" rx="59.3" ry="67.4" fill="none" stroke="#2196f3" stroke-width="1.45"/>
<text x="560.3" y="146.3" font-size="13px" fill="#262a35">年初以来，黄金和美元走势几乎呈正相关</text>
<path d="M957.5 159.7H1004.5a2 2 0 0 1 2 2V179.2H957.5Z" fill="#ec407a"/>
<path d="M957.5 179.2H1006.5V196.5a2 2 0 0 1 -2 2H957.5Z" fill="#3d32f5"/>
<text x="966.4" y="173.8" font-size="12px" fill="#fff" stroke="#fff" stroke-width=".25" letter-spacing="0.22">1.06%</text>
<text x="966.4" y="192.9" font-size="12px" fill="#fff" stroke="#fff" stroke-width=".25" letter-spacing="0.22">0.76%</text>
<text class="ax" x="966.4" y="34.8" letter-spacing="0.22">4.00%</text>
<text class="ax" x="966.4" y="82.4" letter-spacing="0.22">3.00%</text>
<text class="ax" x="966.4" y="128.8" letter-spacing="0.22">2.00%</text>
<text class="ax" x="966.4" y="222.9" letter-spacing="0.22">0.00%</text>
<text class="ax" x="966.4" y="270.6" letter-spacing="0.22">−1.00%</text>
<text class="ax" x="966.4" y="317.3" letter-spacing="0.22">−2.00%</text>
<text class="ax" x="966.4" y="363.8" letter-spacing="0.22">−3.00%</text>
<text class="ax" x="68.7" y="412.6" text-anchor="middle" letter-spacing="0.25">Dec</text>
<text class="ax" x="161.4" y="412.6" text-anchor="middle" letter-spacing="0.25">9</text>
<text class="ax" x="251.4" y="412.6" text-anchor="middle" letter-spacing="0.25">16</text>
<text class="ax" x="340.3" y="412.6" text-anchor="middle" letter-spacing="0.25">23</text>
<text class="ax" x="444.6" y="412.45" text-anchor="middle" font-weight="bold" style="font-size:13.8px;stroke-width:.15px" letter-spacing="0.15">2025</text>
<text class="ax" x="572.8" y="412.6" text-anchor="middle" letter-spacing="0.25">13</text>
<text class="ax" x="662.7" y="412.6" text-anchor="middle" letter-spacing="0.25">20</text>
<text class="ax" x="751.7" y="412.6" text-anchor="middle" letter-spacing="0.25">27</text>
<text class="ax" x="838" y="412.6" text-anchor="middle" letter-spacing="0.25">Feb</text>
<text class="ax" x="930.6" y="412.6" text-anchor="middle" letter-spacing="0.25">10</text>
<g fill="none" stroke="#2a2e39" stroke-width="1.05"><path d="M985.6 408.9L988.6 403.5H994.7L997.8 408.9L994.7 414.3H988.6Z" stroke-linejoin="round"/><circle cx="991.7" cy="408.9" r="1.9"/></g>
<g fill="#131722"><path d="M10.1 368H21.3V380.3H15.4V372.7H10.1Z"/><circle cx="25.2" cy="370.05" r="1.95"/><path d="M29.7 368H35.9L31.1 380.3H24.9Z"/></g>
<text x="42.6" y="380.3" font-size="17px" font-weight="bold" fill="#131722" letter-spacing="0.36">TradingView</text>
</svg>
</body></html>
